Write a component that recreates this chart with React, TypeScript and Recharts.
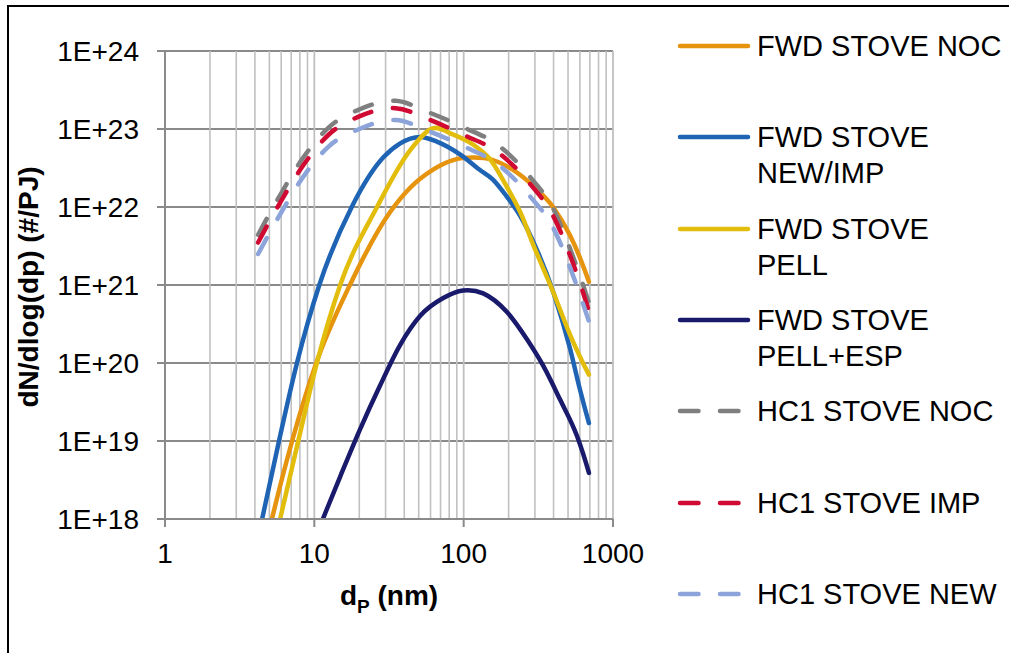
import React from 'react';
import { LineChart, Line, XAxis, YAxis, CartesianGrid, ReferenceLine, Legend } from 'recharts';

// particle diameter (nm) and dN/dlog(dp) (#/PJ)
const dpFwdNoc = [5.2, 7.1, 10.3, 17.3, 32, 44, 62, 85, 116, 157, 205, 300, 400, 516, 600, 690];
const dnFwdNoc = [1e18, 1e19, 1e20, 1e21, 8.5e21, 1.78e22, 3.0e22, 4.0e22, 4.3e22, 4.0e22, 3.15e22, 1.78e22, 9.8e21, 4.3e21, 2.25e21, 1.1e21];

const dpFwdNewImp = [4.47, 5.8, 7.65, 10.8, 17.8, 28.9, 37.4, 51, 66, 95, 128, 157, 195, 240, 310, 400, 517, 600, 690];
const dnFwdNewImp = [1e18, 1e19, 1e20, 1e21, 1e22, 4.3e22, 6.5e22, 7.9e22, 6.9e22, 4.7e22, 3.0e22, 2.25e22, 1.35e22, 7.6e21, 2.8e21, 7.9e20, 1.5e20, 4.6e19, 1.7e19];

const dpFwdPell = [5.9, 7.8, 10.4, 14.9, 26.3, 44, 62, 85, 116, 150, 195, 240, 292, 400, 516, 690];
const dnFwdPell = [1e18, 1e19, 1e20, 1e21, 1e22, 5.4e22, 1.02e23, 8.5e22, 6.3e22, 4.1e22, 1.8e22, 8.5e21, 3.3e21, 7.9e20, 2.3e20, 7.1e19];

const dpFwdPellEsp = [11.4, 14.9, 20.2, 27.5, 37.5, 51, 73, 99, 135, 195, 266, 340, 442, 575, 690];
const dnFwdPellEsp = [1e18, 3.5e18, 1.4e19, 5.1e19, 1.7e20, 4.0e20, 6.8e20, 8.5e20, 7.8e20, 4.5e20, 2.0e20, 9.3e19, 3.4e19, 1.15e19, 3.9e18];

const dpHc1 = [4.2, 6, 8.5, 12.5, 20, 35, 60, 100, 170, 280, 400, 520, 690];
const dnHc1Noc = [4.4e21, 1.5e22, 4.4e22, 1.05e23, 1.78e23, 2.3e23, 1.6e23, 1.05e23, 6.2e22, 2.4e22, 9.3e21, 2.8e21, 5.9e20];
const dnHc1Imp = [3.5e21, 1.2e22, 3.5e22, 8.5e22, 1.45e23, 1.85e23, 1.3e23, 8.4e22, 5.0e22, 1.95e22, 7.5e21, 2.3e21, 4.6e20];
const dnHc1New = [2.5e21, 8.5e21, 2.5e22, 6.0e22, 1.0e23, 1.3e23, 9.2e22, 6.0e22, 3.5e22, 1.35e22, 5.3e21, 1.6e21, 3.4e20];

const xTicks = [1, 10, 100, 1000];
const xMinor = [2, 3, 4, 5, 6, 7, 8, 9, 20, 30, 40, 50, 60, 70, 80, 90, 200, 300, 400, 500, 600, 700, 800, 900];
const yTicks = [1e18, 1e19, 1e20, 1e21, 1e22, 1e23, 1e24];

const FONT = '"Liberation Sans", Arial, Helvetica, sans-serif';
const AXIS_GREY = '#8a8a8a';
const GRID_GREY = '#c0c0c0';
const DASH = '18 22';

const toPoints = (xs: number[], ys: number[]) => xs.map((x, i) => ({ dp: x, dn: ys[i] }));

// smooth curve through the points (cubic Hermite in x, no clamping at the peaks),
// closer to Excel's "smoothed line" than monotone / natural
const smoothX = (context: any) => {
  let pts: number[][] = [];
  return {
    areaStart() {},
    areaEnd() {},
    lineStart() {
      pts = [];
    },
    point(x: number, y: number) {
      pts.push([+x, +y]);
    },
    lineEnd() {
      const n = pts.length;
      if (!n) return;
      context.moveTo(pts[0][0], pts[0][1]);
      if (n === 1) return;
      const h: number[] = [];
      const d: number[] = [];
      for (let i = 0; i < n - 1; i++) {
        h.push(pts[i + 1][0] - pts[i][0]);
        d.push((pts[i + 1][1] - pts[i][1]) / h[i]);
      }
      const m: number[] = [];
      for (let i = 0; i < n; i++) {
        if (n === 2) m.push(d[0]);
        else if (i === 0) m.push(((2 * h[0] + h[1]) * d[0] - h[0] * d[1]) / (h[0] + h[1]));
        else if (i === n - 1) m.push(((2 * h[n - 2] + h[n - 3]) * d[n - 2] - h[n - 2] * d[n - 3]) / (h[n - 2] + h[n - 3]));
        else m.push((d[i - 1] * h[i] + d[i] * h[i - 1]) / (h[i - 1] + h[i]));
      }
      for (let i = 0; i < n - 1; i++) {
        const t = h[i] / 3;
        context.bezierCurveTo(
          pts[i][0] + t, pts[i][1] + m[i] * t,
          pts[i + 1][0] - t, pts[i + 1][1] - m[i + 1] * t,
          pts[i + 1][0], pts[i + 1][1],
        );
      }
    },
  };
};

const series = [
  { name: 'FWD STOVE NOC', label: ['FWD STOVE NOC'], color: '#e6930e', dashed: false, data: toPoints(dpFwdNoc, dnFwdNoc) },
  { name: 'FWD STOVE NEW/IMP', label: ['FWD STOVE', 'NEW/IMP'], color: '#1f64b4', dashed: false, data: toPoints(dpFwdNewImp, dnFwdNewImp) },
  { name: 'FWD STOVE PELL', label: ['FWD STOVE', 'PELL'], color: '#e3bd0c', dashed: false, data: toPoints(dpFwdPell, dnFwdPell) },
  { name: 'FWD STOVE PELL+ESP', label: ['FWD STOVE', 'PELL+ESP'], color: '#1a1a6c', dashed: false, data: toPoints(dpFwdPellEsp, dnFwdPellEsp) },
  { name: 'HC1 STOVE NOC', label: ['HC1 STOVE NOC'], color: '#7f7f7f', dashed: true, data: toPoints(dpHc1, dnHc1Noc) },
  { name: 'HC1 STOVE IMP', label: ['HC1 STOVE IMP'], color: '#d00a33', dashed: true, data: toPoints(dpHc1, dnHc1Imp) },
  { name: 'HC1 STOVE NEW', label: ['HC1 STOVE NEW'], color: '#8ca4d9', dashed: true, data: toPoints(dpHc1, dnHc1New) },
];

function LegendBox() {
  return (
    <div style={{ position: 'relative', fontFamily: FONT, fontSize: 29, color: '#000' }}>
      {series.map((s, i) => {
        const top = 46 + i * 91.3 - 18;
        return (
          <div key={s.name} style={{ position: 'absolute', left: 0, top, width: 340 }}>
            <svg width={80} height={36} style={{ position: 'absolute', left: 676, top: 0 }}>
              {s.dashed ? (
                <line x1={4} y1={18} x2={64} y2={18} stroke={s.color} strokeWidth={4.5} strokeLinecap="round" strokeDasharray="18.5 21.5" />
              ) : (
                <line x1={4} y1={18} x2={72} y2={18} stroke={s.color} strokeWidth={4.5} strokeLinecap="round" />
              )}
            </svg>
            <div style={{ position: 'absolute', left: 757, top: 0, lineHeight: '36px', whiteSpace: 'pre' }}>
              {s.label.map((l) => (
                <div key={l}>{l}</div>
              ))}
            </div>
          </div>
        );
      })}
    </div>
  );
}

const YTitle = (props: any) => {
  const vb = props.viewBox;
  const x = vb.x + 38;
  const y = vb.y + vb.height / 2 + 2;
  return (
    <text x={x} y={y} transform={`rotate(-90, ${x}, ${y})`} textAnchor="middle" fontFamily={FONT} fontSize={28} fontWeight="bold" fill="#000">
      dN/dlog(dp) (#/PJ)
    </text>
  );
};

const XTitle = (props: any) => {
  const vb = props.viewBox;
  const x = vb.x + vb.width / 2;
  const y = vb.y + 86;
  return (
    <text x={x} y={y} textAnchor="middle" fontFamily={FONT} fontSize={28} fontWeight="bold" fill="#000">
      d
      <tspan fontSize={19} dy={8}>P</tspan>
      <tspan dy={-8}> (nm)</tspan>
    </text>
  );
};

export default function App() {
  return (
    <div style={{ position: 'absolute', left: 0, top: 0, width: 1009, height: 653, overflow: 'hidden', background: '#fff' }}>
      <div style={{ position: 'absolute', left: 7, top: 5, width: 1100, height: 700, borderTop: '2px solid #000', borderLeft: '2px solid #000' }} />
      <div style={{ position: 'absolute', left: 0, top: 0 }}>
        <LineChart width={1009} height={653} margin={{ top: 51, right: 396, left: 0, bottom: 0 }}>
          <CartesianGrid vertical={false} stroke={AXIS_GREY} strokeWidth={2} />
          {xMinor.map((v) => (
            <ReferenceLine key={v} x={v} stroke={GRID_GREY} strokeWidth={1.6} />
          ))}
          {xTicks.slice(1).map((v) => (
            <ReferenceLine key={'m' + v} x={v} stroke={GRID_GREY} strokeWidth={1.8} />
          ))}
          <XAxis
            dataKey="dp"
            type="number"
            scale="log"
            domain={[1, 1000]}
            ticks={xTicks}
            allowDataOverflow
            height={134}
            tickSize={8}
            tickMargin={16}
            stroke={AXIS_GREY}
            axisLine={{ stroke: AXIS_GREY, strokeWidth: 2 }}
            tickLine={{ stroke: AXIS_GREY, strokeWidth: 2 }}
            tick={{ fill: '#000', fontSize: 28, fontFamily: FONT }}
            label={{ content: XTitle }}
          />
          <YAxis
            type="number"
            scale="log"
            domain={[1e18, 1e24]}
            ticks={yTicks}
            allowDataOverflow
            width={165}
            tickSize={8}
            tickMargin={18}
            tickFormatter={(v: number) => `1E+${Math.round(Math.log10(v))}`}
            axisLine={{ stroke: AXIS_GREY, strokeWidth: 2 }}
            tickLine={{ stroke: AXIS_GREY, strokeWidth: 2 }}
            tick={{ fill: '#000', fontSize: 28, fontFamily: FONT }}
            label={{ content: YTitle }}
          />
          <Legend
            layout="vertical"
            align="right"
            verticalAlign="top"
            wrapperStyle={{ left: 0, top: 0, width: 0, height: 0 }}
            content={() => <LegendBox />}
          />
          {series.map((s) => (
            <Line
              key={s.name}
              name={s.name}
              data={s.data}
              dataKey="dn"
              type={smoothX as any}
              stroke={s.color}
              strokeWidth={4.5}
              strokeLinecap="round"
              strokeDasharray={s.dashed ? DASH : undefined}
              dot={false}
              activeDot={false}
              isAnimationActive={false}
            />
          ))}
        </LineChart>
      </div>
    </div>
  );
}
